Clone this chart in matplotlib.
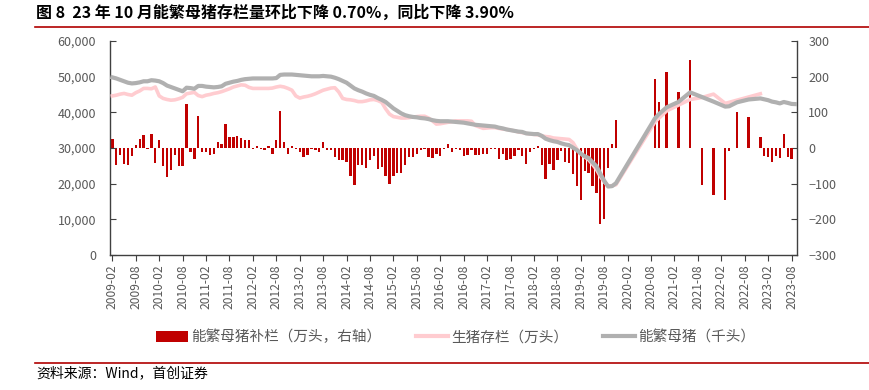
import numpy as np
import pandas as pd
from matplotlib import pyplot as plt
from matplotlib.patches import Patch
from matplotlib.lines import Line2D

plt.rcParams['font.family'] = ['Noto Sans CJK SC', 'DejaVu Sans']

nan = np.nan

# monthly categories 2009-02 .. 2023-09
months = pd.date_range('2009-02-01', periods=176, freq='MS').strftime('%Y-%m').tolist()

# 能繁母猪补栏（万头，右轴）
sow_change = [
    25, -47, -21, -44, -49, -23, 7, 25, 36, -3, 39, -42,
    22, -51, -81, -61, -21, -51, -51, 122, -11, -31, 91, -12,
    -11, -21, -17, 16, 12, 67, 31, 31, 35, 27, 23, 23,
    -3, 6, -2, -6, 6, -17, 21, 105, 16, -16, 6, -2,
    -12, -25, -21, -2, -6, -12, 17, -5, -7, -25, -35, -33,
    -40, -79, -105, -49, -49, -56, -35, -23, -59, -53, -79, -100,
    -79, -70, -70, -49, -25, -25, -16, -6, -3, -25, -28, -16,
    -23, -2, 12, -12, -2, -6, -23, -19, -6, -19, -19, -16,
    -17, -2, -2, -31, -16, -33, -31, -23, -5, -23, -44, -11,
    -2, 5, -49, -86, -44, -63, -35, -9, -39, -42, -72, -107,
    -145, -65, -70, -107, -126, -212, -199, -56, 12, 79, nan, nan,
    nan, nan, nan, nan, nan, nan, nan, 194, 130, nan, 213, nan,
    nan, 158, nan, nan, 246, nan, nan, -105, nan, nan, -131, nan,
    nan, -145, -9, nan, 101, nan, nan, 86, nan, nan, 30, -23,
    -25, -39, -23, -28, 39, -25, -31, -1,
]

# 生猪存栏（万头）
hog_stock = [
    44600, 44800, 45100, 45300, 45000, 44800, 45500, 46000, 46700, 46700, 46600, 47100,
    44600, 43900, 43600, 43400, 43500, 43800, 44200, 45200, 45400, 45600, 44700, 44400,
    44800, 45000, 45300, 45500, 45800, 46200, 46600, 47100, 47400, 47700, 47600, 47000,
    46700, 46700, 46700, 46700, 46700, 46800, 47100, 47300, 47100, 46700, 46200, 44600,
    44000, 44300, 44500, 44800, 45200, 45700, 46200, 46500, 46800, 46900, 45700, 43900,
    43600, 43500, 43300, 43000, 43000, 43200, 43500, 43600, 43300, 42800, 41000, 39500,
    38800, 38600, 38400, 38400, 38500, 38700, 38800, 38900, 38900, 38400, 37600, 36700,
    36800, 37000, 37200, 37400, 37600, 37600, 37600, 37600, 37500, 36300, 35900, 35500,
    35600, 35700, 35700, 35500, 35300, 35200, 35000, 34800, 34500, 34300, 34100, 33900,
    33800, 33700, 33400, 33200, 33100, 32800, 32700, 32600, 32500, 32400, 31500, 29700,
    28500, 27500, 26700, 25400, 24000, 22000, 20500, 19400, 19400, 19700, nan, nan,
    nan, nan, nan, nan, nan, nan, nan, 37300, nan, nan, 40400, nan,
    nan, 42000, nan, nan, 43600, nan, nan, 44150, nan, nan, 45100, nan,
    nan, 42500, nan, nan, 43400, nan, nan, 44300, nan, nan, 45200, nan,
    nan, nan, nan, nan, nan, nan, nan, nan,
]

# 能繁母猪（千头）
sow_stock = [
    49800, 49500, 49100, 48700, 48300, 48100, 48200, 48400, 48700, 48700, 49000, 48900,
    48700, 48200, 47500, 47100, 46700, 46300, 45900, 46900, 46800, 46600, 47400, 47400,
    47200, 47100, 47000, 47100, 47300, 48000, 48300, 48600, 48800, 49100, 49300, 49400,
    49500, 49500, 49500, 49500, 49500, 49500, 49600, 50500, 50600, 50600, 50600, 50500,
    50400, 50300, 50200, 50100, 50100, 50100, 50200, 50100, 50000, 49700, 49300, 48800,
    48300, 47500, 46700, 46200, 45800, 45300, 44900, 44600, 44000, 43500, 42900, 42000,
    41100, 40400, 39700, 39200, 38900, 38700, 38600, 38400, 38300, 38100, 37800, 37600,
    37500, 37500, 37500, 37400, 37300, 37200, 37100, 36900, 36700, 36500, 36400, 36300,
    36200, 36100, 36000, 35700, 35500, 35200, 35000, 34800, 34600, 34500, 34100, 34000,
    33900, 33900, 33400, 32600, 32200, 31900, 31700, 31300, 31000, 30800, 30100, 29400,
    28400, 27700, 27200, 26000, 24900, 22800, 20800, 19200, 19300, 20100, nan, nan,
    nan, nan, nan, nan, nan, nan, nan, 38300, 39500, nan, 41400, nan,
    nan, 42900, nan, nan, 45600, nan, nan, 44300, nan, nan, 43000, nan,
    nan, 41600, 41700, nan, 42800, nan, nan, 43600, nan, nan, 43900, 43650,
    43400, 43000, 42800, 42500, 42900, 42650, 42350, 42300,
]

title = '图 8  23 年 10 月能繁母猪存栏量环比下降 0.70%，同比下降 3.90%'
source = '资料来源：Wind，首创证券'

bar_color = '#C00000'
hog_color = '#FFCCD0'
sow_color = '#B0B0B0'
text_gray = '#595959'

x = np.arange(len(months))
hog = pd.Series(hog_stock, index=x).dropna()
sow = pd.Series(sow_stock, index=x).dropna()

fig = plt.figure(figsize=(8.69, 3.90), dpi=100)
ax = fig.add_axes([0.1266, 0.3462, 0.7906, 0.5487])
ax2 = ax.twinx()
ax.set_zorder(ax2.get_zorder() + 1)
ax.patch.set_visible(False)

ax2.bar(x, sow_change, width=0.6, color=bar_color, zorder=2)
ax.plot(hog.index, hog.values, color=hog_color, lw=2.6, zorder=3, solid_joinstyle='round')
ax.plot(sow.index, sow.values, color=sow_color, lw=3.0, zorder=4, solid_joinstyle='round')

ax.set_xlim(-0.6, 175.4)
ax.set_ylim(0, 60000)
ax2.set_ylim(-300, 300)
ax.set_yticks(range(0, 60001, 10000))
ax.set_yticklabels([f'{v:,}' for v in range(0, 60001, 10000)])
ax2.set_yticks(range(-300, 301, 100))

ax.set_xticks(x[::6])
ax.set_xticklabels(months[::6], rotation=90)

for a in (ax, ax2):
    a.spines['top'].set_visible(False)
    for s in ('left', 'right', 'bottom'):
        a.spines[s].set_color('#404040')
        a.spines[s].set_linewidth(1.0)
ax.spines['right'].set_visible(False)
ax2.spines['left'].set_visible(False)
ax2.spines['bottom'].set_visible(False)

ax.tick_params(axis='y', direction='in', length=4, labelsize=9, colors='#404040', labelcolor=text_gray, pad=10)
ax2.tick_params(axis='y', direction='in', length=4, labelsize=9, colors='#404040', labelcolor=text_gray, pad=8)
ax.tick_params(axis='x', direction='out', length=4, labelsize=8.7, colors='#404040', labelcolor=text_gray, pad=3)

handles = [
    Patch(facecolor=bar_color, edgecolor='none'),
    Line2D([0], [0], color=hog_color, lw=3),
    Line2D([0], [0], color=sow_color, lw=3),
]
labels = ['能繁母猪补栏（万头，右轴）', '生猪存栏（万头）', '能繁母猪（千头）']
fig.legend(handles, labels, loc='center', bbox_to_anchor=(0.524, 0.136), ncol=3,
           frameon=False, fontsize=10.5, labelcolor=text_gray, handlelength=2.2,
           handleheight=0.8, handletextpad=0.2, columnspacing=2.4)

fig.text(0.042, 0.968, title, fontsize=11.5, fontweight='bold', va='center', ha='left')
fig.add_artist(Line2D([0.04, 1.0], [0.93, 0.93], color='#B00000', lw=1.2))
fig.add_artist(Line2D([0.04, 1.0], [0.07, 0.07], color='#B00000', lw=1.2))
fig.text(0.042, 0.043, source, fontsize=10, style='italic', va='center', ha='left')

fig.savefig('out.png', dpi=100)
